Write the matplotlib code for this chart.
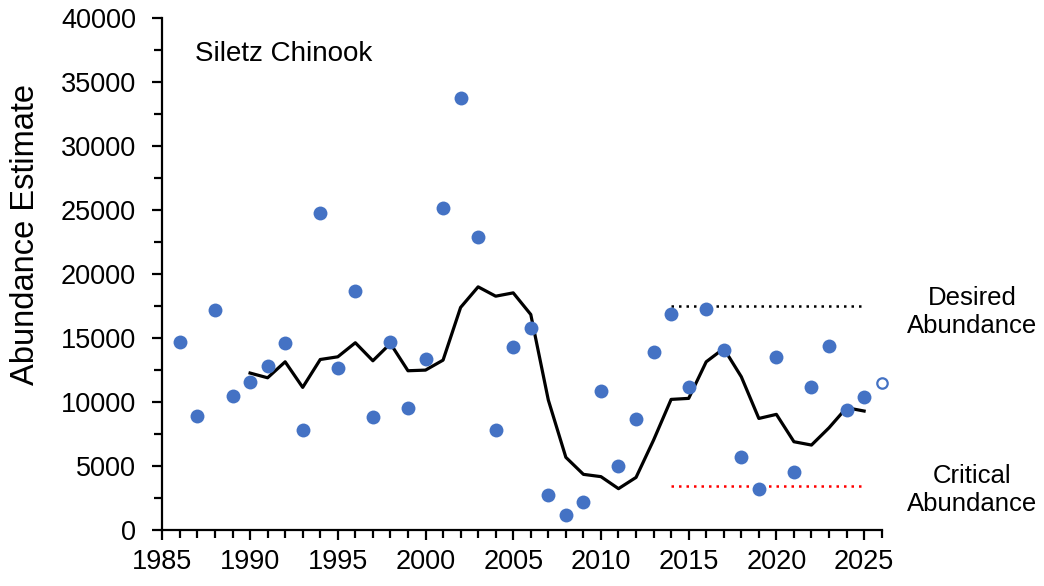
import matplotlib
matplotlib.use("Agg")
import matplotlib.pyplot as plt
from matplotlib.ticker import MultipleLocator

plt.rcParams['font.family'] = ['Liberation Sans', 'DejaVu Sans']

years = list(range(1986, 2026))
abundance = [14700, 8900, 17200, 10500, 11600, 12800, 14600, 7800, 24800, 12700,
             18700, 8800, 14700, 9500, 13350, 25200, 33750, 22900, 7800, 14300,
             15800, 2700, 1200, 2200, 10900, 5000, 8700, 13900, 16900, 11200,
             17250, 14050, 5700, 3200, 13500, 4500, 11200, 14400, 9400, 10400]
forecast_year = [2026]
forecast_value = [11500]

avg_years = list(range(1990, 2026))
running_avg = [12270, 11900, 13150, 11150, 13330, 13540, 14640, 13230, 14580, 12450,
               12500, 13280, 17400, 19010, 18280, 18540, 16850, 10160, 5680, 4350,
               4170, 3230, 4110, 7030, 10210, 10290, 13150, 14190, 11980, 8720,
               9040, 6900, 6640, 7990, 9560, 9300]

desired_years = [2014, 2025]
desired_level = 17500
critical_years = [2014, 2025]
critical_level = 3450

fig = plt.figure(figsize=(10.44, 5.86), dpi=100)
ax = fig.add_axes([0.1555, 0.0956, 0.689, 0.873])

blue = '#4472C4'
ax.plot(years, abundance, 'o', color=blue, markersize=10, markeredgewidth=0, zorder=3)
ax.plot(forecast_year, forecast_value, 'o', markerfacecolor='white', markeredgecolor=blue,
        markersize=7.5, markeredgewidth=1.6, zorder=3, clip_on=False)
ax.plot(avg_years, running_avg, '-', color='black', linewidth=2.3, zorder=2)
ax.plot(desired_years, [desired_level] * 2, linestyle=(0, (1, 2)), color='black', linewidth=1.8)
ax.plot(critical_years, [critical_level] * 2, linestyle=(0, (1, 2)), color='#FF0000', linewidth=1.8)

ax.set_xlim(1985, 2026)
ax.set_ylim(0, 40000)
ax.xaxis.set_major_locator(MultipleLocator(5))
ax.xaxis.set_minor_locator(MultipleLocator(1))
ax.yaxis.set_major_locator(MultipleLocator(5000))
ax.yaxis.set_minor_locator(MultipleLocator(2500))
for s in ['top', 'right']:
    ax.spines[s].set_visible(False)
for s in ['left', 'bottom']:
    ax.spines[s].set_linewidth(1.6)
ax.tick_params(axis='both', which='major', direction='out', length=7, width=1.6,
               labelsize=19.5, colors='black')
ax.tick_params(axis='both', which='minor', direction='out', length=6, width=1.6)
ax.tick_params(axis='x', which='major', pad=7)
ax.tick_params(axis='y', which='major', pad=12)
ax.set_ylabel('Abundance Estimate', fontsize=23.5)
ax.yaxis.set_label_coords(-0.168, 0.578)

ax.text(0.045, 0.93, 'Siletz Chinook', transform=ax.transAxes, fontsize=20,
        ha='left', va='center')
fig.text(972 / 1044, 1 - 312 / 586, 'Desired\nAbundance', fontsize=18.5, ha='center',
         va='center', linespacing=1.2)
fig.text(972 / 1044, 1 - 490 / 586, 'Critical\nAbundance', fontsize=18.5, ha='center',
         va='center', linespacing=1.2)

fig.savefig('out.png', dpi=100)
